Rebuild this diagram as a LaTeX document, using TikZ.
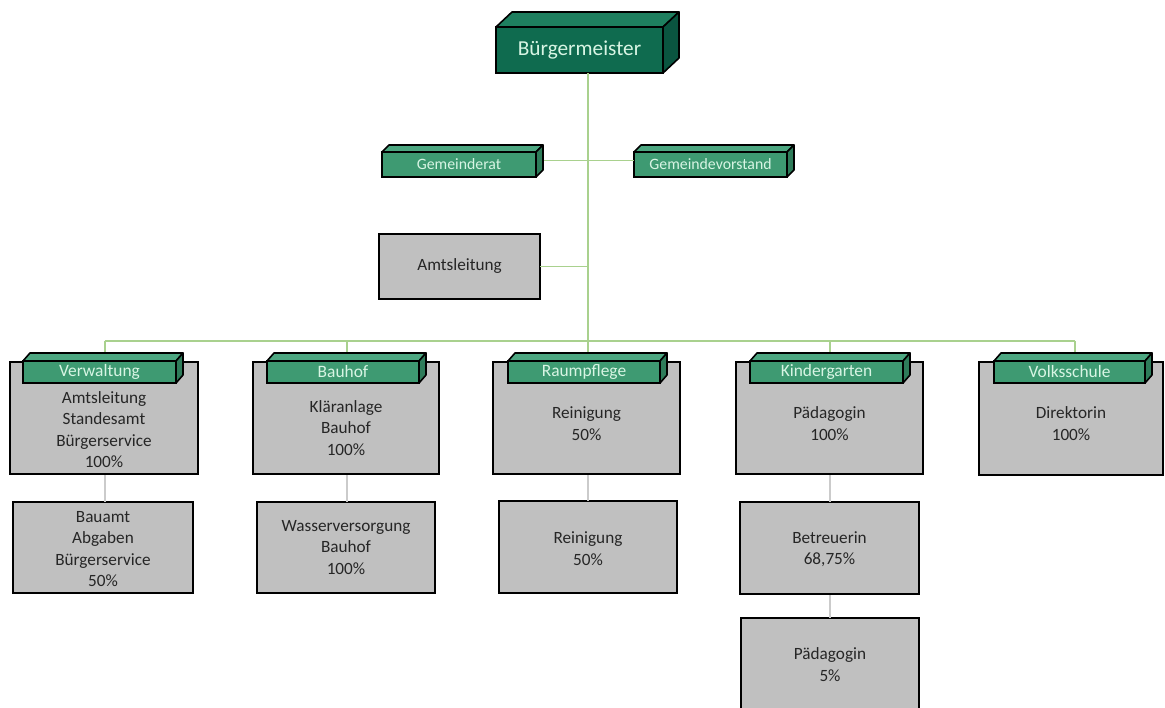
\documentclass[tikz,border=0pt]{standalone}
\usepackage{fontspec}
\setmainfont{Carlito}
\definecolor{bmfront}{HTML}{0F6B4F}
\definecolor{bmtop}{HTML}{1E7F5F}
\definecolor{bmside}{HTML}{0A5540}
\definecolor{tabfront}{HTML}{3E9A72}
\definecolor{tabtop}{HTML}{4DA781}
\definecolor{tabside}{HTML}{2E7C5A}
\definecolor{mint}{HTML}{D8F5E4}
\definecolor{boxgray}{HTML}{C0C0C0}
\definecolor{txtgray}{HTML}{262626}
\definecolor{linegreen}{HTML}{A9D18E}
\definecolor{linegray}{HTML}{CBCBCB}
\newcommand{\cubefaces}[5]{%
  \filldraw[fill=#4, draw=black, line width=1.6pt, line join=round]
    (#1.north west) -- ++(#2,#3) -- ([shift={(#2,#3)}]#1.north east) -- (#1.north east) -- cycle;
  \filldraw[fill=#5, draw=black, line width=1.6pt, line join=round]
    (#1.north east) -- ++(#2,#3) -- ([shift={(#2,#3)}]#1.south east) -- (#1.south east) -- cycle;}
\begin{document}
\begin{tikzpicture}[x=1pt,y=-1pt,
  graybox/.style={draw=black, line width=1.8pt, fill=boxgray, inner sep=0pt, outer sep=0pt},
  bodytext/.style={align=center, font=\fontsize{17.2}{21.5}\selectfont, text=txtgray, inner sep=0pt},
  tabbox/.style={draw=black, line width=1.6pt, fill=tabfront, text=mint, inner sep=0pt, outer sep=0pt,
     font=\fontsize{17.4}{18}\selectfont, minimum height=22pt},
  gembox/.style={tabbox, font=\fontsize{15.8}{18}\selectfont, minimum height=25pt},
  bmbox/.style={draw=black, line width=1.6pt, fill=bmfront, text=mint, inner sep=0pt, outer sep=0pt,
     font=\fontsize{21.3}{24}\selectfont, minimum width=167pt, minimum height=46pt},
  gline/.style={draw=linegreen, line width=1.5pt},
  sline/.style={draw=linegray, line width=1.5pt}]
\useasboundingbox (0,0) rectangle (1165,708);
\clip (0,0) rectangle (1165,708);
\fill[white] (0,0) rectangle (1165,708);

% ---- top nodes ----
\node[bmbox] (bm) at (579.5,50) {Bürgermeister};
\node[gembox, minimum width=154pt] (gr) at (459,164.5) {Gemeinderat};
\node[gembox, minimum width=153pt] (gv) at (710.5,164.5) {Gemeindevorstand};

\coordinate (jC) at (588,341);
\coordinate (busL) at (105,341);
\coordinate (busB) at (347,341);
\coordinate (busK) at (830,341);
\coordinate (busR) at (1075,341);

% connectors (drawn first, boxes cover ends)
\draw[gline] (jC |- bm.south) -- (jC |- 0,353);
\draw[gline] ([yshift=4pt]gr.east) -- ([yshift=4pt]gv.west);
\draw[gline] (busL) -- (busR);
\draw[gline] (busL) -- (105,355);
\draw[gline] (busB) -- (347,355);
\draw[gline] (busK) -- (830,355);
\draw[gline] (busR) -- (1075,355);

% Amtsleitung
\node[graybox, minimum width=161pt, minimum height=65pt] (al) at (459.5,266.5) {};
\node[bodytext] (alt) at (al.center) {Amtsleitung};
\draw[gline] (al.east) -- (al.east -| jC);

% big boxes
\node[graybox, minimum width=188pt, minimum height=112pt] (bV) at (104,418) {};
\node[graybox, minimum width=186pt, minimum height=112pt] (bB) at (346,418) {};
\node[graybox, minimum width=187pt, minimum height=112pt] (bR) at (586.5,418) {};
\node[graybox, minimum width=187pt, minimum height=112pt] (bK) at (829.5,418) {};
\node[graybox, minimum width=184pt, minimum height=113pt] (bS) at (1071,418.5) {};

% sub boxes
\node[graybox, minimum width=180pt, minimum height=91pt] (sV) at (103,547.5) {};
\node[graybox, minimum width=178pt, minimum height=91pt] (sB) at (346,547.5) {};
\node[graybox, minimum width=178pt, minimum height=92pt] (sR) at (588,547) {};
\node[graybox, minimum width=179pt, minimum height=92pt] (sK) at (829.5,548) {};
\node[graybox, minimum width=178pt, minimum height=94pt] (sK2) at (830,665) {};

% sub connectors
\draw[sline] (105,0 |- bV.south) -- (105,0 |- sV.north);
\draw[sline] (347,0 |- bB.south) -- (347,0 |- sB.north);
\draw[sline] (588,0 |- bR.south) -- (588,0 |- sR.north);
\draw[sline] (830,0 |- bK.south) -- (830,0 |- sK.north);
\draw[sline] (830,0 |- sK.south) -- (830,0 |- sK2.north);
% redraw borders over connector ends
\draw[black, line width=1.8pt] (bV.south west) -- (bV.south east);
\draw[black, line width=1.8pt] (bB.south west) -- (bB.south east);
\draw[black, line width=1.8pt] (bR.south west) -- (bR.south east);
\draw[black, line width=1.8pt] (bK.south west) -- (bK.south east);
\draw[black, line width=1.8pt] (sK.south west) -- (sK.south east);

% texts in boxes
\node[bodytext] (tV) at (104,429.5) {Amtsleitung\\Standesamt\\Bürgerservice\\100\%};
\node[bodytext] (tB) at (346,428) {Kläranlage\\Bauhof\\100\%};
\node[bodytext] (tR) at (586.5,423.5) {Reinigung\\50\%};
\node[bodytext] (tK) at (829.5,423.5) {Pädagogin\\100\%};
\node[bodytext] (tS) at (1071,423.5) {Direktorin\\100\%};
\node[bodytext] (uV) at (103,549) {Bauamt\\Abgaben\\Bürgerservice\\50\%};
\node[bodytext] (uB) at (346,547.5) {Wasserversorgung\\Bauhof\\100\%};
\node[bodytext] (uR) at (588,548.5) {Reinigung\\50\%};
\node[bodytext] (uK) at (829.5,549) {Betreuerin\\68,75\%};
\node[bodytext] (uK2) at (830,664.5) {Pädagogin\\5\%};

% tabs
\node[tabbox, minimum width=153pt] (tabV) at (99.5,372) {Verwaltung};
\node[tabbox, minimum width=152pt] (tabB) at (343,372) {Bauhof};
\node[tabbox, minimum width=152pt] (tabR) at (584,372) {Raumpflege};
\node[tabbox, minimum width=153pt] (tabK) at (826.5,372) {Kindergarten};
\node[tabbox, minimum width=151pt] (tabS) at (1069.5,372) {Volksschule};

% 3D faces
\cubefaces{bm}{16}{-15}{bmtop}{bmside}
\cubefaces{gr}{7}{-7}{tabtop}{tabside}
\cubefaces{gv}{7}{-7}{tabtop}{tabside}
\cubefaces{tabV}{7}{-8}{tabtop}{tabside}
\cubefaces{tabB}{7}{-8}{tabtop}{tabside}
\cubefaces{tabR}{7}{-8}{tabtop}{tabside}
\cubefaces{tabK}{7}{-8}{tabtop}{tabside}
\cubefaces{tabS}{7}{-8}{tabtop}{tabside}
\end{tikzpicture}
\end{document}
